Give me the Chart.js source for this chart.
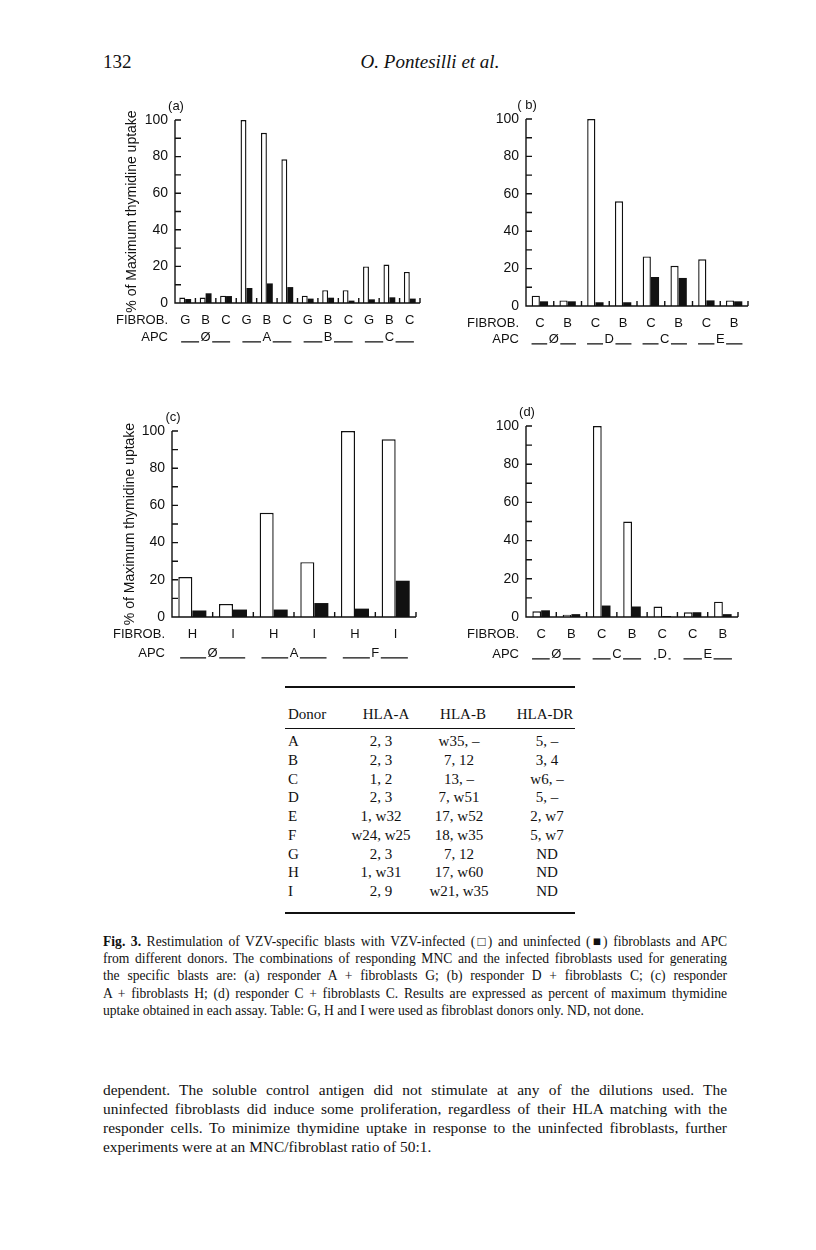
<!DOCTYPE html>
<html>
<head>
<meta charset="utf-8">
<script src="https://cdn.jsdelivr.net/npm/chart.js@4.4.1/dist/chart.umd.min.js"></script>
<style>
  body { margin: 0; background: #fff; }
  #page { position: relative; width: 816px; height: 1250px; font-family: 'Liberation Serif', 'Times New Roman', serif; color: #111; overflow: hidden; }
  canvas { position: absolute; }
  .abs { position: absolute; white-space: nowrap; }
  .jl { position: absolute; left: 103px; width: 624px; white-space: nowrap; text-align: justify; text-align-last: justify; }
  .cap { font-size: 13.6px; }
  .txt { font-size: 15.4px; }
  .rule { position: absolute; left: 285px; width: 290px; background: #111; }
  .cell { position: absolute; font-size: 15px; line-height: 18px; white-space: nowrap; }
</style>
</head>
<body>
<div id="page">
  <div class="abs" style="left:103px; top:51px; font-size:19px;">132</div>
  <div class="abs" style="left:330px; width:200px; text-align:center; top:51px; font-size:19px; font-style:italic;">O. Pontesilli et al.</div>

  <canvas id="chartA" width="330" height="260" style="left:100px; top:95px;"></canvas>
  <canvas id="chartB" width="310" height="260" style="left:450px; top:95px;"></canvas>
  <canvas id="chartC" width="330" height="275" style="left:100px; top:400px;"></canvas>
  <canvas id="chartD" width="310" height="275" style="left:450px; top:400px;"></canvas>

  <div id="table"></div>

  <div class="jl cap" style="top:934px;"><b>Fig. 3.</b> Restimulation of VZV-specific blasts with VZV-infected (□) and uninfected (■) fibroblasts and APC</div>
  <div class="jl cap" style="top:951px;">from different donors. The combinations of responding MNC and the infected fibroblasts used for generating</div>
  <div class="jl cap" style="top:968px;">the specific blasts are: (a) responder A + fibroblasts G; (b) responder D + fibroblasts C; (c) responder</div>
  <div class="jl cap" style="top:986px;">A + fibroblasts H; (d) responder C + fibroblasts C. Results are expressed as percent of maximum thymidine</div>
  <div class="abs cap" style="left:103px; top:1003px;">uptake obtained in each assay. Table: G, H and I were used as fibroblast donors only. ND, not done.</div>

  <div class="jl txt" style="top:1081px;">dependent. The soluble control antigen did not stimulate at any of the dilutions used. The</div>
  <div class="jl txt" style="top:1100px;">uninfected fibroblasts did induce some proliferation, regardless of their HLA matching with the</div>
  <div class="jl txt" style="top:1119px;">responder cells. To minimize thymidine uptake in response to the uninfected fibroblasts, further</div>
  <div class="abs txt" style="left:103px; top:1138px;">experiments were at an MNC/fibroblast ratio of 50:1.</div>
</div>

<script>
// ---- panel (a): responder A + fibroblasts G
const fibA = ['G', 'B', 'C', 'G', 'B', 'C', 'G', 'B', 'C', 'G', 'B', 'C'];
const infA = [3, 3, 4, 100, 93, 78.5, 4, 7, 7, 20, 21, 17];
const uninfA = [2.2, 5.3, 3.8, 8.2, 10.7, 8.7, 2.4, 2.9, 1.3, 2, 3.1, 2.4];
const apcA = ['Ø', 'A', 'B', 'C'];
const apcSpanA = [3, 3, 3, 3];

// ---- panel (b): responder D + fibroblasts C
const fibB = ['C', 'B', 'C', 'B', 'C', 'B', 'C', 'B'];
const infB = [5.5, 3, 100, 56, 26.5, 21.5, 25, 3];
const uninfB = [2.5, 2.5, 2, 2, 15.5, 15, 3, 2.5];
const apcB = ['Ø', 'D', 'C', 'E'];
const apcSpanB = [2, 2, 2, 2];

// ---- panel (c): responder A + fibroblasts H
const fibC = ['H', 'I', 'H', 'I', 'H', 'I'];
const infC = [21.5, 7, 56, 29.5, 100, 95.5];
const uninfC = [3.5, 4, 4, 7.5, 4.5, 19.5];
const apcC = ['Ø', 'A', 'F'];
const apcSpanC = [2, 2, 2];

// ---- panel (d): responder C + fibroblasts C
const fibD = ['C', 'B', 'C', 'B', 'C', 'C', 'B'];
const infD = [3, 1.2, 100, 50, 5.5, 2.5, 8];
const uninfD = [3.5, 1.5, 6, 5.5, 0.5, 2.5, 1.5];
const apcD = ['Ø', 'C', 'D', 'E'];
const apcSpanD = [2, 2, 1, 2];

const yTicks = [0, 20, 40, 60, 80, 100];
const yTitle = '% of Maximum thymidine uptake';

// ---- HLA table
const donors = ['A', 'B', 'C', 'D', 'E', 'F', 'G', 'H', 'I'];
const hlaA = ['2, 3', '2, 3', '1, 2', '2, 3', '1, w32', 'w24, w25', '2, 3', '1, w31', '2, 9'];
const hlaB = ['w35, –', '7, 12', '13, –', '7, w51', '17, w52', '18, w35', '7, 12', '17, w60', 'w21, w35'];
const hlaDR = ['5, –', '3, 4', 'w6, –', '5, –', '2, w7', '5, w7', 'ND', 'ND', 'ND'];

const INK = '#111';
const SANS = '"Liberation Sans", Arial, Helvetica, sans-serif';
Chart.defaults.font.family = SANS;
Chart.defaults.color = INK;

// axes with inward ticks, FIBROB./APC rows, panel letter
const panelDecor = {
    id: 'panelDecor',
    afterDraw(chart, args, o) {
        const { ctx, chartArea: a, scales: { x, y } } = chart;
        const n = chart.data.labels.length;
        const base = y.getPixelForValue(0);
        const top = y.getPixelForValue(100);
        const right = x.getPixelForValue(n - 0.5);
        ctx.save();
        ctx.strokeStyle = INK;
        ctx.lineWidth = 1.4;
        ctx.beginPath();
        ctx.moveTo(a.left, top);
        ctx.lineTo(a.left, base);
        ctx.lineTo(right, base);
        for (let v = 10; v <= 100; v += 10) {
            const py = y.getPixelForValue(v);
            ctx.moveTo(a.left, py);
            ctx.lineTo(a.left + 6, py);
        }
        for (let i = 0; i < n; i++) {
            const px = x.getPixelForValue(i + 0.5);
            ctx.moveTo(px, base);
            ctx.lineTo(px, base - 5);
        }
        ctx.stroke();

        // row labels on same line as the category ticks
        let ly = base + 17, bl = 'middle';
        const items = x.getLabelItems ? x.getLabelItems() : null;
        if (items && items.length) {
            ly = items[0].options.translation[1] + (items[0].textOffset || 0);
            bl = items[0].options.textBaseline || 'middle';
        }
        ctx.fillStyle = INK;
        ctx.font = '13px ' + SANS;
        ctx.textBaseline = bl;
        ctx.textAlign = 'right';
        ctx.fillText('FIBROB.', a.left - 7, ly);
        ctx.fillText('APC', a.left - 7, ly + o.apcGap);

        // APC groups: ___X___
        ctx.textAlign = 'center';
        ctx.lineWidth = 1.1;
        let k = 0;
        o.apc.forEach((lab, g) => {
            const s = o.span[g];
            const l = x.getPixelForValue(k - 0.5);
            const r = x.getPixelForValue(k + s - 0.5);
            const c = (l + r) / 2;
            const total = (r - l) * (s > 1 ? 0.8 : 0.55);
            const m = ctx.measureText(lab);
            const tw = m.width;
            const uy = ly + o.apcGap + m.actualBoundingBoxDescent + 0.5;
            ctx.fillText(lab, c, ly + o.apcGap);
            ctx.beginPath();
            ctx.moveTo(c - total / 2, uy);
            ctx.lineTo(c - tw / 2 - 1.5, uy);
            ctx.moveTo(c + tw / 2 + 1.5, uy);
            ctx.lineTo(c + total / 2, uy);
            ctx.stroke();
            k += s;
        });

        // panel letter
        ctx.textBaseline = 'middle';
        ctx.fillText(o.tag, a.left + 1, a.top - 14);
        ctx.restore();
    }
};

function makePanel(id, tag, labels, inf, uninf, apc, span, opt) {
    return new Chart(document.getElementById(id), {
        type: 'bar',
        data: {
            labels,
            datasets: [
                { label: 'VZV-infected', data: inf, backgroundColor: '#fff', borderColor: INK, borderWidth: 1.4, clip: 4 },
                { label: 'uninfected', data: uninf, backgroundColor: INK, borderWidth: 0, clip: 4 }
            ]
        },
        options: {
            responsive: false,
            animation: false,
            devicePixelRatio: 1,
            layout: { padding: { left: 0, right: opt.padR, top: opt.padT, bottom: 0 } },
            datasets: { bar: { categoryPercentage: opt.cat, barPercentage: 1 } },
            plugins: {
                legend: { display: false },
                tooltip: { enabled: false },
                panelDecor: { tag, apc, span, apcGap: opt.apcGap }
            },
            scales: {
                x: {
                    grid: { display: false, drawTicks: false },
                    border: { display: false },
                    ticks: { font: { size: 13 }, padding: 10, maxRotation: 0, autoSkip: false },
                    afterFit: s => { s.height = opt.xH; }
                },
                y: {
                    min: 0, max: 100,
                    grid: { display: false, drawTicks: false },
                    border: { display: false },
                    afterBuildTicks: s => { s.ticks = yTicks.map(v => ({ value: v })); },
                    ticks: { font: { size: 14 }, padding: 7 },
                    title: {
                        display: !!opt.title,
                        text: opt.title || '',
                        font: { size: 14 },
                        padding: { top: opt.titleOff || 0, bottom: 0 }
                    },
                    afterFit: s => { s.width = opt.yW; }
                }
            }
        },
        plugins: [panelDecor]
    });
}

makePanel('chartA', '(a)', fibA, infA, uninfA, apcA, apcSpanA,
    { padT: 25, padR: 10, yW: 75, xH: 52, cat: 0.58, apcGap: 17, title: yTitle, titleOff: 24 });
makePanel('chartB', '( b)', fibB, infB, uninfB, apcB, apcSpanB,
    { padT: 24, padR: 12, yW: 76, xH: 49, cat: 0.59, apcGap: 16 });
makePanel('chartC', '(c)', fibC, infC, uninfC, apcC, apcSpanC,
    { padT: 31, padR: 14, yW: 72, xH: 58, cat: 0.69, apcGap: 19, title: yTitle, titleOff: 22 });
makePanel('chartD', '(d)', fibD, infD, uninfD, apcD, apcSpanD,
    { padT: 26, padR: 22, yW: 76, xH: 58, cat: 0.58, apcGap: 20 });

// table
(function buildTable() {
    const t = document.getElementById('table');
    let html = '';
    const rule = (y, h) => `<div class="rule" style="top:${y}px;height:${h}px"></div>`;
    const left = (x, y, s) => `<div class="cell" style="left:${x}px;top:${y}px">${s}</div>`;
    const mid = (cx, y, s) => `<div class="cell" style="left:${cx - 50}px;width:100px;text-align:center;top:${y}px">${s}</div>`;
    html += rule(686, 1.6);
    html += left(288, 705, 'Donor') + mid(386, 705, 'HLA-A') + mid(463, 705, 'HLA-B') + mid(545, 705, 'HLA-DR');
    html += rule(728, 1);
    donors.forEach((d, i) => {
        const y = 732 + i * 18.75;
        html += left(288, y, d) + mid(381, y, hlaA[i]) + mid(459, y, hlaB[i]) + mid(547, y, hlaDR[i]);
    });
    html += rule(912, 1.6);
    t.innerHTML = html;
})();
</script>
</body>
</html>
